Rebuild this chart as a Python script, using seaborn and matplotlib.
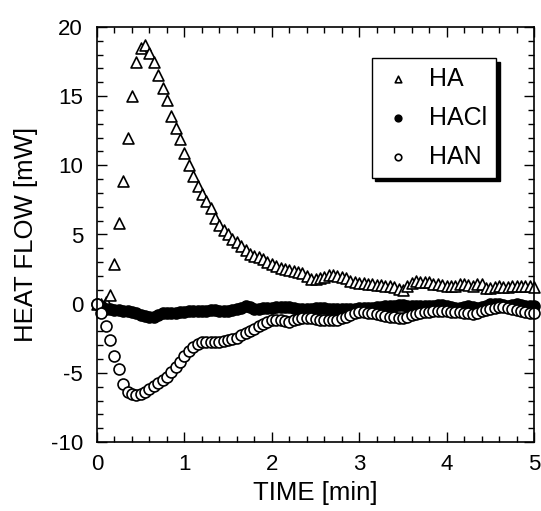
import numpy as np
import pandas as pd
import matplotlib
matplotlib.use("Agg")
import matplotlib.pyplot as plt
import seaborn as sns
from matplotlib.ticker import MultipleLocator

# heat flow readings [mW], one every 0.05 min
ha = [0.0, 0.0, 0.1, 0.6, 2.9, 5.8, 8.9, 12.0, 15.0, 17.5,
      18.5, 18.7, 18.1, 17.5, 16.5, 15.6, 14.7, 13.6, 12.7, 11.9,
      10.9, 10.0, 9.2, 8.5, 7.9, 7.4, 6.9, 6.2, 5.7, 5.35,
      5.0, 4.7, 4.45, 4.15, 3.85, 3.6, 3.45, 3.35, 3.2, 3.0,
      2.85, 2.75, 2.6, 2.5, 2.45, 2.35, 2.3, 2.2, 2.0, 1.75,
      1.75, 1.85, 1.95, 2.05, 2.05, 2.0, 1.95, 1.85, 1.65, 1.55,
      1.5, 1.5, 1.45, 1.4, 1.35, 1.35, 1.3, 1.25, 1.2, 1.05,
      1.0, 1.25, 1.5, 1.65, 1.6, 1.55, 1.55, 1.45, 1.4, 1.35,
      1.3, 1.25, 1.3, 1.4, 1.45, 1.35, 1.3, 1.45, 1.4, 1.15,
      1.15, 1.2, 1.25, 1.2, 1.2, 1.25, 1.25, 1.25, 1.3, 1.25,
      1.2]

hacl = [0.0, -0.2, -0.35, -0.4, -0.45, -0.45, -0.5, -0.55, -0.6, -0.7,
        -0.8, -0.9, -1.0, -0.95, -0.8, -0.7, -0.7, -0.65, -0.65, -0.6,
        -0.6, -0.55, -0.55, -0.5, -0.5, -0.5, -0.45, -0.45, -0.5, -0.55,
        -0.5, -0.45, -0.4, -0.3, -0.2, -0.25, -0.35, -0.35, -0.3, -0.3,
        -0.3, -0.25, -0.25, -0.25, -0.25, -0.3, -0.4, -0.4, -0.35, -0.35,
        -0.3, -0.3, -0.3, -0.35, -0.35, -0.35, -0.4, -0.4, -0.4, -0.35,
        -0.3, -0.3, -0.3, -0.3, -0.25, -0.25, -0.2, -0.15, -0.15, -0.1,
        -0.1, -0.15, -0.2, -0.2, -0.2, -0.15, -0.2, -0.2, -0.1, -0.1,
        -0.2, -0.25, -0.3, -0.3, -0.25, -0.2, -0.25, -0.3, -0.25, -0.15,
        -0.05, 0.0, -0.05, -0.1, -0.15, -0.1, -0.05, -0.1, -0.15, -0.2,
        -0.15]

han = [0.0, -0.7, -1.6, -2.6, -3.8, -4.75, -5.8, -6.4, -6.55, -6.6,
       -6.55, -6.35, -6.15, -5.95, -5.75, -5.5, -5.3, -4.95, -4.6, -4.2,
       -3.75, -3.4, -3.1, -2.9, -2.8, -2.75, -2.75, -2.75, -2.75, -2.7,
       -2.65, -2.55, -2.45, -2.3, -2.15, -2.0, -1.85, -1.65, -1.45, -1.3,
       -1.2, -1.15, -1.2, -1.25, -1.3, -1.2, -1.1, -1.05, -1.05, -1.05,
       -1.1, -1.15, -1.2, -1.2, -1.2, -1.15, -1.05, -0.95, -0.85, -0.7,
       -0.6, -0.6, -0.65, -0.7, -0.75, -0.8, -0.9, -0.95, -1.0, -1.05,
       -1.05, -0.95, -0.85, -0.75, -0.65, -0.6, -0.6, -0.55, -0.5, -0.5,
       -0.55, -0.6, -0.6, -0.6, -0.65, -0.7, -0.75, -0.7, -0.55, -0.45,
       -0.35, -0.3, -0.25, -0.25, -0.3, -0.35, -0.45, -0.55, -0.6, -0.65,
       -0.65]

series = {"HA": ha, "HACl": hacl, "HAN": han}

sns.set_style("ticks")
plt.rcParams["font.family"] = ["Liberation Sans", "DejaVu Sans"]
plt.rcParams["axes.unicode_minus"] = False
plt.rcParams["text.color"] = "black"
plt.rcParams["axes.labelcolor"] = "black"

fig = plt.figure(figsize=(5.41, 5.11), dpi=100)
ax = fig.add_axes([97 / 541, 1 - 442 / 511, 437 / 541, 415 / 511])

styles = {
    "HA": dict(marker="^", facecolor="white", s=62),
    "HACl": dict(marker="o", facecolor="black", s=62),
    "HAN": dict(marker="o", facecolor="white", s=62),
}

for name, vals in series.items():
    df = pd.DataFrame({"time": np.round(np.arange(len(vals)) * 0.05, 2), "flow": vals})
    sns.scatterplot(data=df, x="time", y="flow", ax=ax, label=name,
                    edgecolor="black", linewidth=1.2, clip_on=False,
                    **styles[name])

ax.set_xlim(0, 5)
ax.set_ylim(-10, 20)
ax.xaxis.set_major_locator(MultipleLocator(1))
ax.xaxis.set_minor_locator(MultipleLocator(0.2))
ax.yaxis.set_major_locator(MultipleLocator(5))
ax.yaxis.set_minor_locator(MultipleLocator(1))
ax.tick_params(which="both", direction="in", top=True, right=True,
               width=1.0, colors="black", labelsize=16)
ax.tick_params(which="major", length=7)
ax.tick_params(which="minor", length=4)
ax.tick_params(axis="x", pad=9)
ax.tick_params(axis="y", pad=10)
for sp in ax.spines.values():
    sp.set_linewidth(1.2)
    sp.set_color("black")

ax.set_xlabel("TIME [min]", fontsize=18.5, labelpad=4)
ax.set_ylabel("HEAT FLOW [mW]", fontsize=18.5, labelpad=9)

leg = ax.legend(loc="upper left", bbox_to_anchor=(0.629, 0.925), fontsize=18,
                frameon=True, fancybox=False, markerscale=0.6,
                labelspacing=0.6, borderpad=0.35, handlelength=1.4,
                handletextpad=0.55, borderaxespad=0,
                shadow={"color": "black", "alpha": 1.0, "ox": 2.5, "oy": -2.5})
leg.get_frame().set_edgecolor("black")
leg.get_frame().set_linewidth(1.0)

fig.savefig("out.png", dpi=100)
